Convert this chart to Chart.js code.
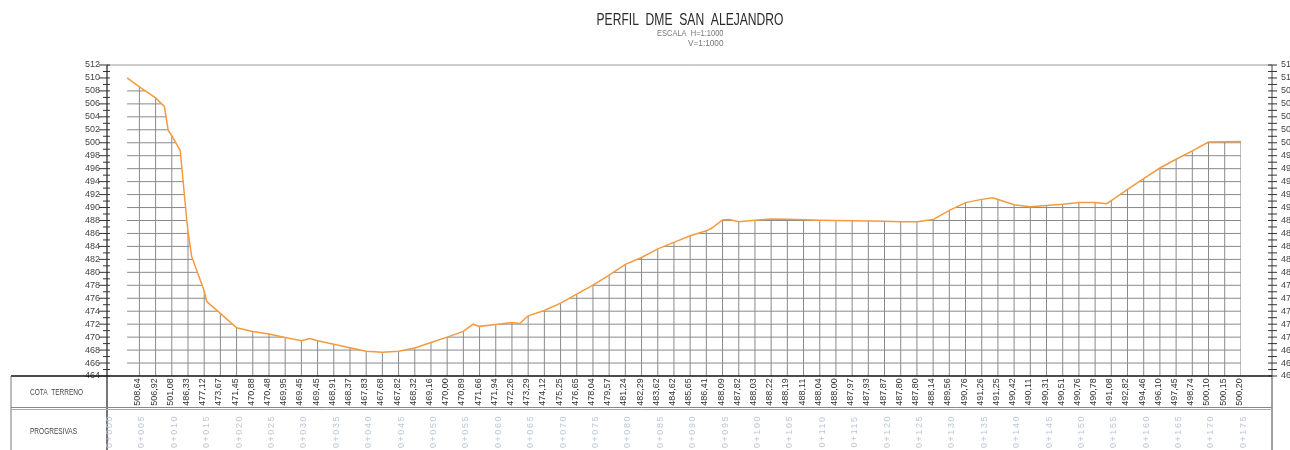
<!DOCTYPE html>
<html>
<head>
<meta charset="utf-8">
<script src="https://cdn.jsdelivr.net/npm/chart.js@4.4.1/dist/chart.umd.min.js"></script>
<style>
  html, body { margin: 0; padding: 0; background: #fff; }
  #wrap { width: 1290px; height: 450px; }
</style>
</head>
<body>
<div id="wrap"><canvas id="perfil"></canvas></div>
<script>
// estaciones (m) de la fila COTA TERRENO
var estaciones = [
  5, 7.5, 10, 12.5, 15, 17.5, 20, 22.5, 25, 27.5, 30, 32.5, 35, 37.5, 40, 42.5,
  45, 47.5, 50, 52.5, 55, 57.5, 60, 62.5, 65, 67.5, 70, 72.5, 75, 77.5, 80, 82.5,
  85, 87.5, 90, 92.5, 95, 97.5, 100, 102.5, 105, 107.5, 110, 112.5, 115, 117.5,
  120, 122.5, 125, 127.5, 130, 132.5, 135, 137.5, 140, 142.5, 145, 147.5, 150,
  152.5, 155, 157.5, 160, 162.5, 165, 167.5, 170, 172.5, 175
]

var cotaTerreno = [
  508.64, 506.92, 501.08, 486.33, 477.12, 473.67, 471.45, 470.88, 470.48, 469.95,
  469.45, 469.45, 468.91, 468.37, 467.83, 467.68, 467.82, 468.32, 469.16, 470.00,
  470.89, 471.66, 471.94, 472.26, 473.29, 474.12, 475.25, 476.65, 478.04, 479.57,
  481.24, 482.29, 483.62, 484.62, 485.65, 486.41, 488.09, 487.82, 488.03, 488.22,
  488.19, 488.11, 488.04, 488.00, 487.97, 487.93, 487.87, 487.80, 487.80, 488.14,
  489.56, 490.76, 491.26, 491.25, 490.42, 490.11, 490.31, 490.51, 490.76, 490.78,
  491.08, 492.82, 494.46, 496.10, 497.45, 498.74, 500.10, 500.15, 500.20
]

// quiebres del terreno entre estaciones
var quiebresEst  = [3.1, 8.85, 9.45, 11.3, 12.3, 13.05, 15.4, 31.3, 56.5, 63.7, 93.3, 96.1, 136.7, 154.3]
var quiebresCota = [510.0, 505.6, 501.9, 498.8, 488.2, 482.5, 475.5, 469.8, 472.0, 472.1, 486.8, 488.15, 491.5, 490.6]

var progresivas = [
  '0+000', '0+005', '0+010', '0+015', '0+020', '0+025', '0+030', '0+035', '0+040',
  '0+045', '0+050', '0+055', '0+060', '0+065', '0+070', '0+075', '0+080', '0+085',
  '0+090', '0+095', '0+100', '0+105', '0+110', '0+115', '0+120', '0+125', '0+130',
  '0+135', '0+140', '0+145', '0+150', '0+155', '0+160', '0+165', '0+170', '0+175'
]

var cotaMin = 464
var cotaMax = 512

var terreno = estaciones.map((s, i) => ({x: s, y: cotaTerreno[i]}))
  .concat(quiebresEst.map((s, i) => ({x: s, y: quiebresCota[i]})))
  .sort((a, b) => a.x - b.x)

var fam = "'Liberation Sans', Arial, sans-serif"

function line(ctx, x1, y1, x2, y2, color, w) {
  ctx.strokeStyle = color
  ctx.lineWidth = w
  ctx.beginPath()
  ctx.moveTo(x1, y1)
  ctx.lineTo(x2, y2)
  ctx.stroke()
}

// texto comprimido horizontalmente al ancho del dibujo CAD
function fitText(ctx, txt, x, y, size, color, width, align) {
  ctx.font = size + 'px ' + fam
  ctx.fillStyle = color
  ctx.textBaseline = 'alphabetic'
  ctx.textAlign = 'left'
  var w = ctx.measureText(txt).width
  var sx = width / w
  var x0 = align === 'center' ? x - width / 2 : align === 'right' ? x - width : x
  ctx.save()
  ctx.translate(x0, y)
  ctx.scale(sx, 1)
  ctx.fillText(txt, 0, 0)
  ctx.restore()
}

var perfilPlugin = {
  id: 'perfil',
  beforeDatasetsDraw(chart) {
    const {ctx, chartArea: a, scales: {x, y}} = chart
    const pts = chart.getDatasetMeta(0).data
    ctx.save()
    // grilla solo debajo del terreno
    ctx.beginPath()
    ctx.moveTo(pts[0].x, a.bottom)
    pts.forEach(p => ctx.lineTo(p.x, p.y))
    ctx.lineTo(pts[pts.length - 1].x, a.bottom)
    ctx.closePath()
    ctx.clip()
    ctx.strokeStyle = '#8a8a8a'
    ctx.lineWidth = 1
    ctx.beginPath()
    y.ticks.forEach(t => {
      if (t.value % 2 !== 0 || t.value <= cotaMin) return
      const py = y.getPixelForValue(t.value)
      ctx.moveTo(a.left, py)
      ctx.lineTo(a.right, py)
    })
    estaciones.forEach(s => {
      const px = x.getPixelForValue(s)
      ctx.moveTo(px, a.bottom)
      ctx.lineTo(px, a.top)
    })
    ctx.stroke()
    ctx.restore()
  },
  afterDraw(chart) {
    const {ctx, chartArea: a, scales: {x, y}} = chart
    const H = chart.height
    const tblLeft = 11
    const sepY = a.bottom + 32.5
    ctx.save()

    // marco
    line(ctx, a.left, a.top, a.right, a.top, '#9a9a9a', 1)
    line(ctx, a.left, a.top, a.left, H, '#1a1a1a', 1.2)
    line(ctx, a.right, a.top, a.right, H, '#444', 1)
    line(ctx, tblLeft, a.bottom, a.right, a.bottom, '#111', 1.5)
    line(ctx, tblLeft, a.bottom, tblLeft, H, '#777', 1)
    line(ctx, tblLeft, sepY - 1, a.right, sepY - 1, '#888', 1)
    line(ctx, tblLeft, sepY + 1, a.right, sepY + 1, '#aaa', 1)

    // marcas de los ejes de cota y rotulos del eje derecho
    ctx.font = '9px ' + fam
    ctx.fillStyle = '#444'
    ctx.textAlign = 'left'
    ctx.textBaseline = 'middle'
    y.ticks.forEach(t => {
      const py = y.getPixelForValue(t.value)
      const major = t.value % 2 === 0
      line(ctx, a.left - (major ? 8 : 4), py, a.left + 3, py, '#333', 1)
      line(ctx, a.right - 4, py, a.right + 5, py, '#333', 1)
      if (major) ctx.fillText(String(t.value), a.right + 9, py)
    })

    // titulo
    fitText(ctx, 'PERFIL  DME  SAN  ALEJANDRO', 690, 25, 17, '#2a2a2a', 187, 'center')
    fitText(ctx, 'ESCALA  H=1:1000', 723.5, 36, 9.5, '#777', 66.5, 'right')
    fitText(ctx, 'V=1:1000', 723.5, 45.5, 9.5, '#777', 35.5, 'right')

    // cabecera de la tabla
    fitText(ctx, 'COTA  TERRENO', 30, 394.5, 8.5, '#444', 53, 'left')
    fitText(ctx, 'PROGRESIVAS', 30, 433.5, 8.5, '#444', 47, 'left')

    // cotas
    ctx.font = '9px ' + fam
    ctx.fillStyle = '#333'
    ctx.textAlign = 'center'
    ctx.textBaseline = 'middle'
    estaciones.forEach((s, i) => {
      const px = x.getPixelForValue(s)
      ctx.save()
      ctx.translate(px - 1.5, a.bottom + 16)
      ctx.rotate(-Math.PI / 2)
      ctx.fillText(cotaTerreno[i].toFixed(2).replace('.', ','), 0, 0)
      ctx.restore()
    })

    // progresivas
    ctx.fillStyle = '#bcc6d4'
    ctx.letterSpacing = '1.5px'
    progresivas.forEach(lbl => {
      const px = x.getPixelForValue(parseInt(lbl.split('+')[1], 10))
      ctx.save()
      ctx.translate(px + 2.5, a.bottom + 55.5)
      ctx.rotate(-Math.PI / 2)
      ctx.fillText(lbl, 0, 0)
      ctx.restore()
    })
    ctx.letterSpacing = '0px'
    ctx.restore()
  }
}

var ctx = document.getElementById('perfil').getContext('2d')

var chart = new Chart(ctx, {
  type: 'line',
  data: {
    datasets: [{
      data: terreno,
      borderColor: '#f59a3d',
      borderWidth: 1.5,
      pointRadius: 0,
      tension: 0,
      fill: false
    }]
  },
  options: {
    responsive: true,
    maintainAspectRatio: false,
    devicePixelRatio: 1,
    animation: false,
    layout: {padding: {left: 77, right: 18, top: 65, bottom: 74}},
    plugins: {legend: {display: false}, title: {display: false}, tooltip: {enabled: false}},
    scales: {
      x: {type: 'linear', min: 0, max: 179.8, display: false},
      y: {
        position: 'left', min: cotaMin, max: cotaMax,
        grid: {display: false}, border: {display: false},
        ticks: {
          stepSize: 1,
          autoSkip: false,
          padding: -1,
          color: '#444',
          font: {family: fam, size: 9},
          callback: v => (v % 2 === 0 ? String(v) : '')
        },
        afterFit: s => { s.width = 30 }
      }
    }
  },
  plugins: [perfilPlugin]
})
</script>
</body>
</html>
